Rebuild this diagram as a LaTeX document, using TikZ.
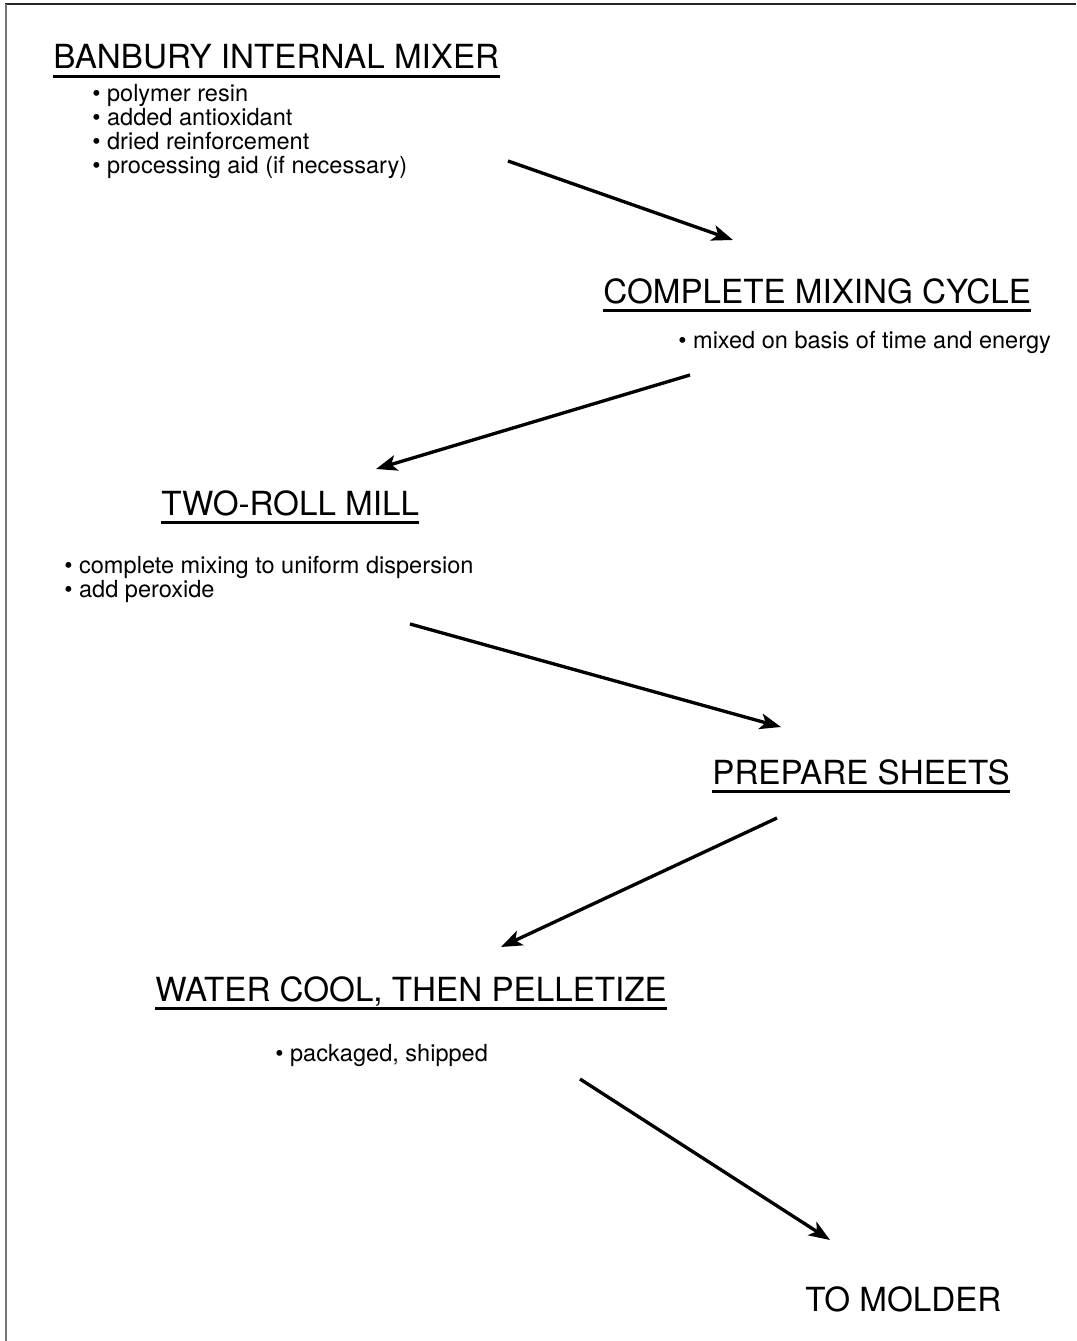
\documentclass[tikz,border=0pt]{standalone}
\usepackage{fontspec}
\setmainfont{TeX Gyre Heros}
\usetikzlibrary{arrows.meta}

\begin{document}
\begin{tikzpicture}[
    x=0.02cm, y=-0.02cm,
    head/.style={anchor=base west, inner sep=0pt, text depth=0pt,
                 font=\fontsize{18.9}{20}\selectfont},
    items/.style={anchor=north west, inner sep=0pt, align=left,
                  font=\fontsize{13.4}{13.6}\selectfont},
    uline/.style={line width=1.4pt},
    arr/.style={-{Stealth[length=12pt, width=9pt, inset=3pt]}, line width=1.9pt},
    frametop/.style={line width=1.3pt, draw=black!85},
    frameleft/.style={line width=1.3pt, draw=black!55}
]
\useasboundingbox (0,0) rectangle (1076,1341);

% Frame (top and left edges only)
\draw[frametop] (5,4) -- (1076,4);
\draw[frameleft] (6,4) -- (6,1341);

% Steps
\node[head] (ban) at (53,69) {BANBURY INTERNAL MIXER};
\node[items] (banlist) at (92,84) {\textbullet\ polymer resin\\
  \textbullet\ added antioxidant\\
  \textbullet\ dried reinforcement\\
  \textbullet\ processing aid (if necessary)};

\node[head] (mix) at (603,303) {COMPLETE MIXING CYCLE\hspace{0.3em}};
\node[items] (mixlist) at (678,331) {\textbullet\ mixed on basis of time and energy};

\node[head] (mill) at (161,515) {TWO-ROLL MILL};
\node[items] (milllist) at (64,556) {\textbullet\ complete mixing to uniform dispersion\\
  \textbullet\ add peroxide};

\node[head] (sheets) at (712,784) {PREPARE SHEETS};

\node[head] (cool) at (155,1001) {WATER COOL, THEN PELLETIZE};
\node[items] (coollist) at (275,1044) {\textbullet\ packaged, shipped};

\node[head] (molder) at (805,1311) {TO MOLDER};

% Underlines
\draw[uline] ([yshift=-4pt]ban.south west) -- ([yshift=-4pt]ban.south east);
\draw[uline] ([yshift=-4pt]mix.south west) -- ([yshift=-4pt]mix.south east);
\draw[uline] ([yshift=-4pt]mill.south west) -- ([yshift=-4pt]mill.south east);
\draw[uline] ([yshift=-4pt]sheets.south west) -- ([yshift=-4pt]sheets.south east);
\draw[uline] ([yshift=-4pt]cool.south west) -- ([yshift=-4pt]cool.south east);

% Arrow ends (free-standing between the steps)
\coordinate (banOut) at (508,161);
\coordinate (mixIn) at (733,240);
\coordinate (mixOut) at (690,375);
\coordinate (millIn) at (376,469);
\coordinate (millOut) at (410,624);
\coordinate (sheetsIn) at (781,727);
\coordinate (sheetsOut) at (777,818);
\coordinate (coolIn) at (501,947);
\coordinate (coolOut) at (580,1079);
\coordinate (molderIn) at (830,1240);

% Flow
\draw[arr] (banOut) -- (mixIn);
\draw[arr] (mixOut) -- (millIn);
\draw[arr] (millOut) -- (sheetsIn);
\draw[arr] (sheetsOut) -- (coolIn);
\draw[arr] (coolOut) -- (molderIn);
\end{tikzpicture}
\end{document}
